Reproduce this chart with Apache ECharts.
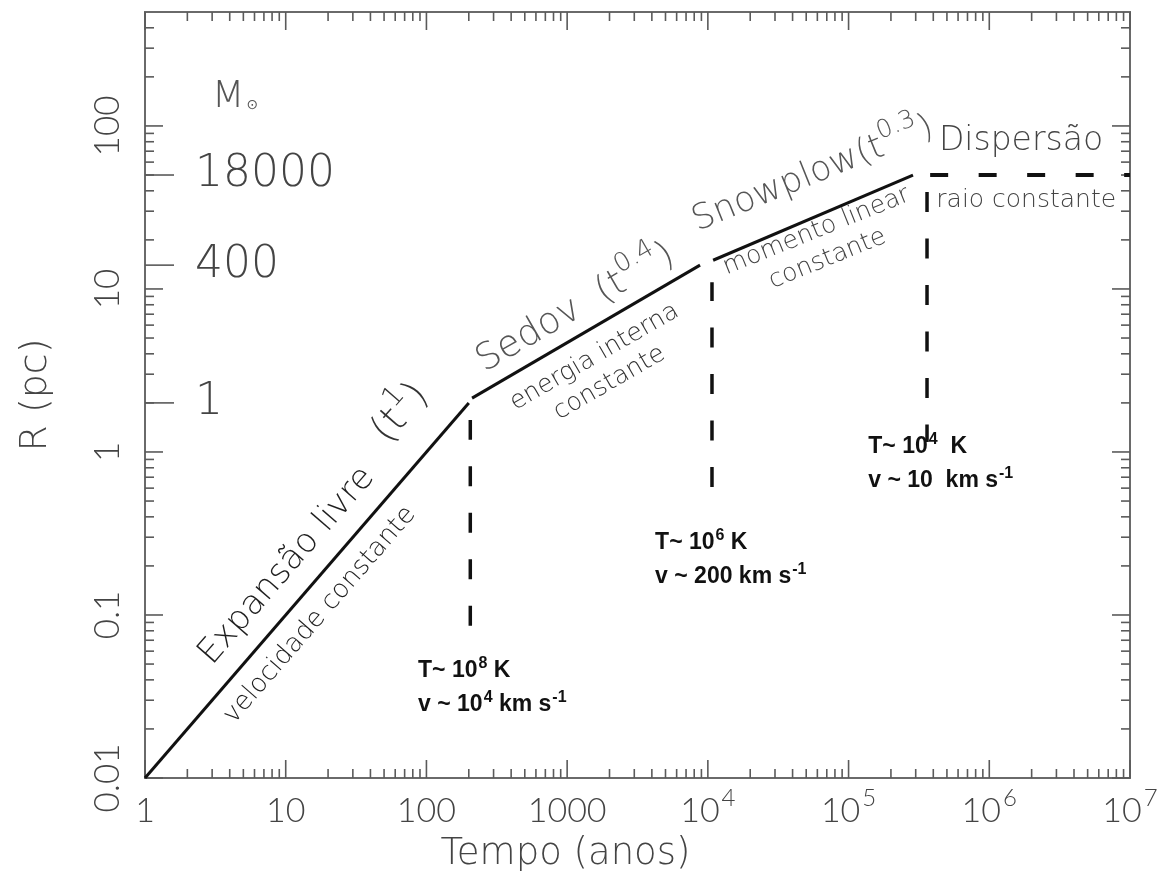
<!DOCTYPE html>
<html>
<head>
<meta charset="utf-8">
<script src="https://cdn.jsdelivr.net/npm/echarts@6/dist/echarts.min.js"></script>
<style>
  html, body { margin: 0; padding: 0; background: #fff; }
  #chart { width: 1166px; height: 879px; }
</style>
</head>
<body>
<div id="chart"></div>
<script>
// Evolution of a supernova remnant: radius R (pc) against age (years), log-log.

// Phase segments [age, radius]
const freeExpansion = [[1, 0.01], [200, 2]];
const sedovPhase = [[211, 2.14], [8800, 14]];
const snowplowPhase = [[10900, 15], [287000, 50]];
const dispersalPhase = [[380000, 50], [1e7, 50]];

// Phase boundaries (vertical dashed markers)
const boundaryFree = [[205, 0.0858], [205, 1.57]];
const boundarySedov = [[10700, 0.61], [10700, 11.0]];
const boundarySnow = [[361000, 39.4], [361000, 1.15]];

// Swept-up mass scale (solar masses) at given radii
const massRadii = [2, 14, 50];
const massLabels = ['1', '400', '18000'];

// Axis ranges and tick values
const ageRange = [1, 1e7];
const radiusRange = [0.01, 500];
const ageMajor = [1, 10, 100, 1000, 1e4, 1e5, 1e6, 1e7];
const radiusMajor = [0.01, 0.1, 1, 10, 100];

// Minor ticks at 2..9 times each decade
function minorTicks(majors, top) {
  const out = [];
  majors.forEach(d => {
    for (let m = 2; m <= 9; m++) {
      const v = +(m * d).toPrecision(6);
      if (v < top) out.push(v);
    }
  });
  return out;
}
const ageMinor = minorTicks(ageMajor, ageRange[1]);
const radiusMinor = minorTicks(radiusMajor, radiusRange[1]);

// Text annotations anchored in data space [age, radius]
const annotations = [
  { text: 'Expansão livre', at: [10.2, 0.2], angle: 49, size: 34, color: '#1e1e1e' },
  { text: '(t{sup|1})', at: [66, 1.72], angle: 49, size: 40, color: '#333' },
  { text: 'velocidade constante', at: [17.5, 0.1], angle: 49, size: 26, color: '#1e1e1e' },
  { text: 'Sedov  (t{sup|0.4})', at: [1150, 7.6], angle: 30, size: 37, color: '#555' },
  { text: 'energia interna\nconstante', at: [1770, 3.18], angle: 30, size: 25, color: '#333' },
  { text: 'Snowplow(t{sup|0.3})', at: [56000, 50.5], angle: 22, size: 35, color: '#555' },
  { text: 'momento linear\nconstante', at: [64800, 18.6], angle: 22, size: 25, color: '#444' },
  { text: 'Dispersão', at: [1.68e6, 79.8], angle: 0, size: 33, color: '#444' },
  { text: 'raio constante', at: [1.83e6, 34.7], angle: 0, size: 25, color: '#444' },
  { text: 'M{sun|⊙}', at: [4.36, 150], angle: 0, size: 38, color: '#555' }
];

// Physical conditions at each transition (left-aligned blocks)
const conditions = [
  { text: 'T~ 10{s|8} K\nv ~ 10{s|4} km s{s|-1}', at: [87.2, 0.0356] },
  { text: 'T~ 10{s|6} K\nv ~ 200 km s{s|-1}', at: [4217, 0.217] },
  { text: 'T~ 10{s|4}  K\nv ~ 10  km s{s|-1}', at: [1.38e5, 0.843] }
];

const TICK_FONT = 'Lato';
const WORD_FONT = '"DejaVu Sans", Lato, sans-serif';
const TEXT_GRAY = '#444';
const AXIS_GRAY = '#5a5a5a';

function isDecade(v) {
  const e = Math.log10(v);
  return Math.abs(e - Math.round(e)) < 1e-6;
}

function ageLabel(v) {
  if (!isDecade(v)) return '';
  const e = Math.round(Math.log10(v));
  return e <= 3 ? String(Math.round(v)) : '10{sup|' + e + '}';
}

function radiusLabel(v) {
  if (!isDecade(v)) return '';
  return String(+v.toPrecision(6));
}

function renderTicks(params, api) {
  const cs = params.coordSys;
  const L = cs.x, R = cs.x + cs.width, T = cs.y, B = cs.y + cs.height;
  const children = [];
  const seg = (x1, y1, x2, y2) => children.push({
    type: 'line', shape: { x1, y1, x2, y2 },
    style: { stroke: AXIS_GRAY, lineWidth: 1.6 }
  });
  const xt = (v, len) => { const px = api.coord([v, 1])[0]; seg(px, B, px, B - len); seg(px, T, px, T + len); };
  const yt = (v, len) => { const py = api.coord([1, v])[1]; seg(L, py, L + len, py); seg(R, py, R - len, py); };
  ageMajor.forEach(v => xt(v, 18));
  ageMinor.forEach(v => xt(v, 9));
  radiusMajor.forEach(v => yt(v, 18));
  radiusMinor.forEach(v => yt(v, 9));
  massRadii.forEach((r, i) => {
    const py = api.coord([1, r])[1];
    seg(L, py, L + 29, py);
    children.push({
      type: 'text', x: L + 50, y: py,
      style: {
        text: massLabels[i], fill: TEXT_GRAY, fontFamily: WORD_FONT, fontWeight: 200,
        fontSize: 44, align: 'left', verticalAlign: 'middle'
      }
    });
  });
  return { type: 'group', children };
}

function renderAnnotation(params, api) {
  const a = annotations[api.value(2)];
  const p = api.coord([api.value(0), api.value(1)]);
  return {
    type: 'text', x: p[0], y: p[1], rotation: a.angle * Math.PI / 180,
    style: {
      text: a.text, fill: a.color, fontFamily: WORD_FONT, fontWeight: 200,
      fontSize: a.size, lineHeight: Math.round(a.size * 1.2),
      align: 'center', verticalAlign: 'middle',
      rich: {
        sup: { fill: a.color, fontFamily: WORD_FONT, fontWeight: 200, fontSize: Math.round(a.size * 0.7), padding: [0, 0, Math.round(a.size * 0.8), 0] },
        sun: { fill: a.color, fontFamily: WORD_FONT, fontSize: 14, padding: [16, 0, 0, 2] }
      }
    }
  };
}

function renderCondition(params, api) {
  const c = conditions[api.value(2)];
  const p = api.coord([api.value(0), api.value(1)]);
  return {
    type: 'text', x: p[0], y: p[1],
    style: {
      text: c.text, fill: '#111', fontFamily: '"Liberation Sans", Arial, sans-serif', fontWeight: 'bold',
      fontSize: 23, lineHeight: 34, align: 'left', verticalAlign: 'middle',
      rich: {
        s: { fill: '#111', fontFamily: '"Liberation Sans", Arial, sans-serif', fontWeight: 'bold', fontSize: 16, padding: [0, 0, 15, 1] }
      }
    }
  };
}

const solid = { color: '#111', width: 3 };

const chart = echarts.init(document.getElementById('chart'));
chart.setOption({
  backgroundColor: '#fff',
  animation: false,
  grid: {
    left: 145, right: 36, top: 12, bottom: 101,
    show: true, borderColor: '#6a6a6a', borderWidth: 2, backgroundColor: 'transparent',
    containLabel: false, outerBoundsMode: 'none'
  },
  xAxis: {
    type: 'log', logBase: 10, min: ageRange[0], max: ageRange[1], splitNumber: 7,
    axisLine: { show: false }, axisTick: { show: false }, splitLine: { show: false },
    axisLabel: {
      formatter: ageLabel, color: TEXT_GRAY, fontFamily: TICK_FONT, fontWeight: 300,
      fontSize: 34, margin: 5, lineHeight: 56, showMinLabel: true, showMaxLabel: true,
      rich: { sup: { color: TEXT_GRAY, fontFamily: TICK_FONT, fontWeight: 300, fontSize: 24, padding: [0, 0, 26, 2] } }
    },
    name: 'Tempo (anos)', nameLocation: 'middle', nameGap: 58, nameMoveOverlap: false,
    nameTextStyle: { color: TEXT_GRAY, fontFamily: WORD_FONT, fontWeight: 200, fontSize: 37, padding: [0, 144, 0, 0] }
  },
  yAxis: {
    type: 'log', logBase: 10, min: radiusRange[0], max: radiusRange[1], splitNumber: 5,
    axisLine: { show: false }, axisTick: { show: false }, splitLine: { show: false },
    axisLabel: {
      formatter: radiusLabel, rotate: 90, color: TEXT_GRAY, fontFamily: TICK_FONT, fontWeight: 300,
      fontSize: 35, margin: 20, showMaxLabel: false
    },
    name: 'R (pc)', nameLocation: 'middle', nameGap: 90, nameRotate: 90, nameMoveOverlap: false,
    nameTextStyle: { color: TEXT_GRAY, fontFamily: WORD_FONT, fontWeight: 200, fontSize: 38 }
  },
  series: [
    { type: 'line', data: freeExpansion, symbol: 'none', lineStyle: solid, silent: true },
    { type: 'line', data: sedovPhase, symbol: 'none', lineStyle: solid, silent: true },
    { type: 'line', data: snowplowPhase, symbol: 'none', lineStyle: solid, silent: true },
    { type: 'line', data: dispersalPhase, symbol: 'none', silent: true,
      lineStyle: { color: '#111', width: 4, type: [18, 30.5] } },
    { type: 'line', data: boundaryFree, symbol: 'none', silent: true,
      lineStyle: { color: '#111', width: 3.5, type: [20, 26.5] } },
    { type: 'line', data: boundarySedov, symbol: 'none', silent: true,
      lineStyle: { color: '#111', width: 3.5, type: [20, 26.5] } },
    { type: 'line', data: boundarySnow, symbol: 'none', silent: true,
      lineStyle: { color: '#111', width: 3.5, type: [20, 26.5] } },
    { type: 'custom', renderItem: renderTicks, data: [[1, 1]], silent: true, clip: false },
    { type: 'custom', renderItem: renderAnnotation, silent: true, clip: false,
      data: annotations.map((a, i) => [a.at[0], a.at[1], i]) },
    { type: 'custom', renderItem: renderCondition, silent: true, clip: false,
      data: conditions.map((c, i) => [c.at[0], c.at[1], i]) }
  ]
});
</script>
</body>
</html>
